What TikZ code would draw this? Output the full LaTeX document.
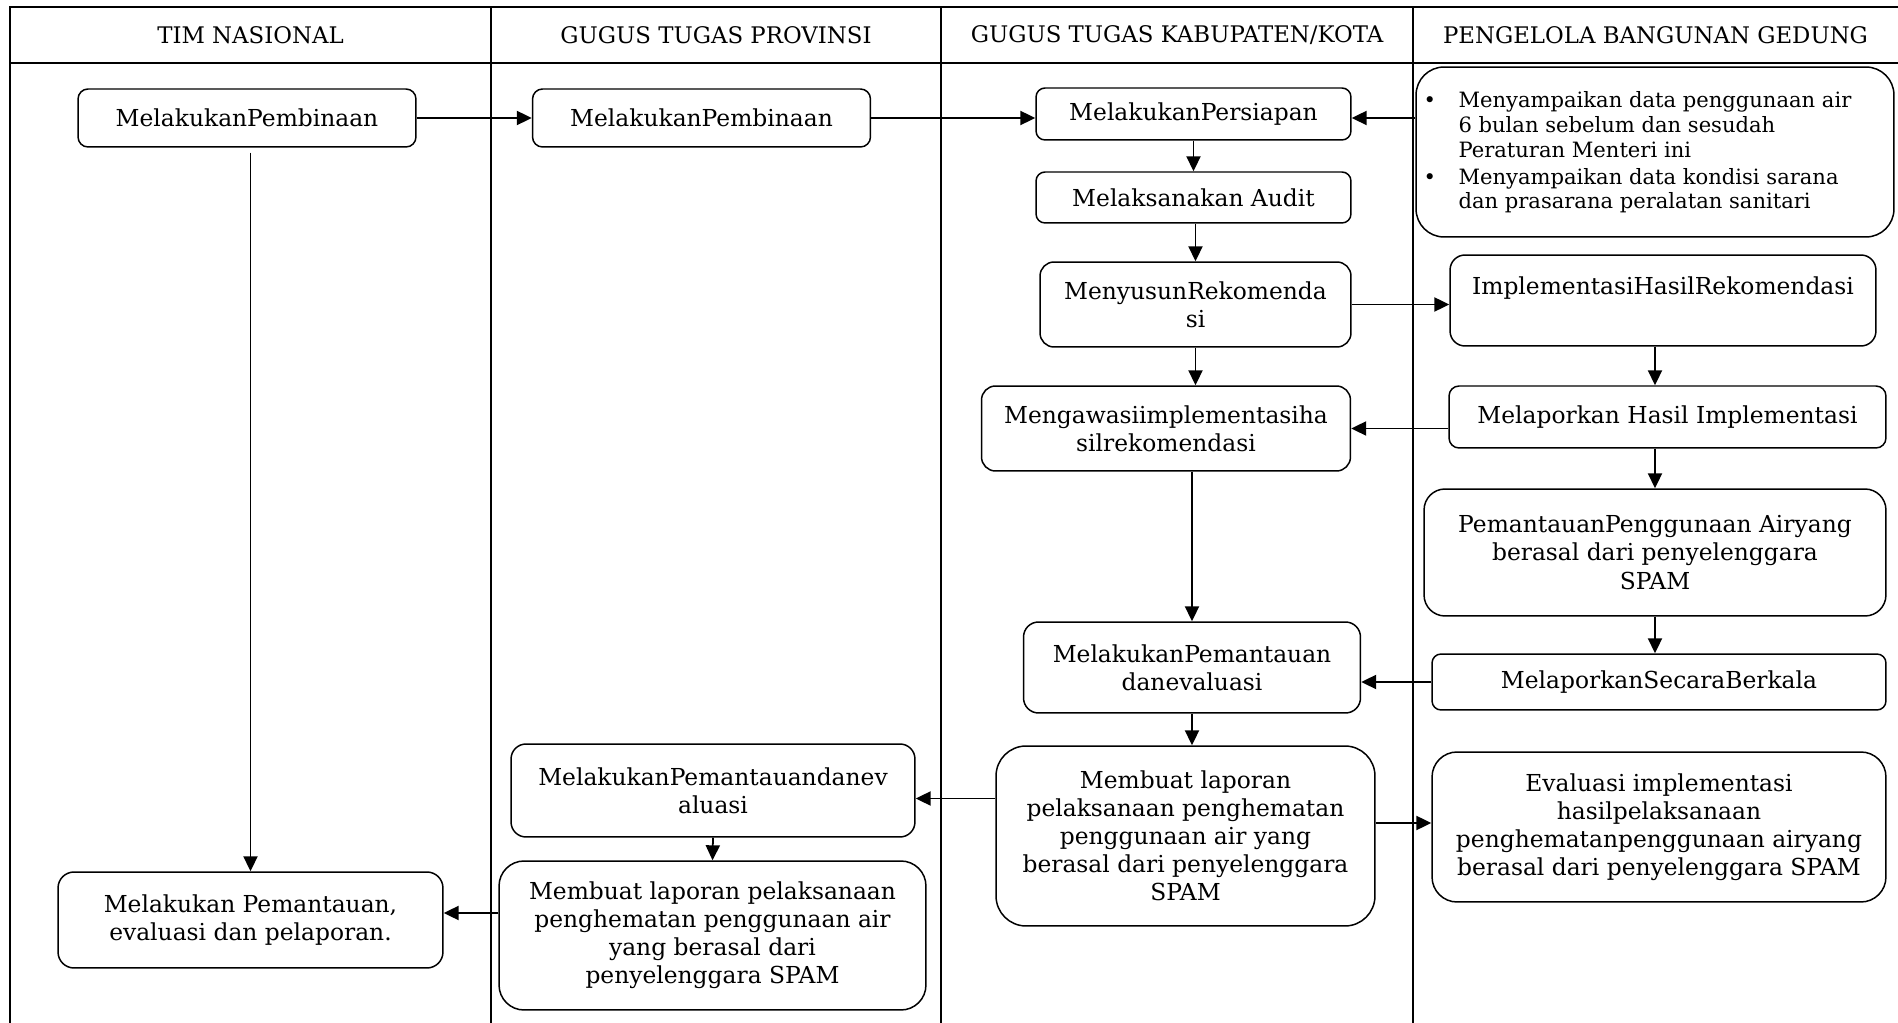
\documentclass[tikz,border=0pt]{standalone}
\usepackage{fontspec}
\setmainfont{DejaVu Serif}
\usepackage{tikz}
\usetikzlibrary{arrows.meta}
\tikzset{
  frame/.style={line width=1.4pt},
  lane/.style={line width=1pt},
  head/.style={font=\fontsize{13}{16}\selectfont},
  proc/.style={rectangle, draw, line width=0.85pt, rounded corners=0.2cm,
               align=center, inner sep=2pt, font=\fontsize{13.3}{16}\selectfont},
  flow/.style={-{Triangle[length=8.5pt,width=8pt]}, line width=1pt},
}

\begin{document}
\begin{tikzpicture}[x=0.02cm, y=-0.02cm]
  \useasboundingbox (0,0) rectangle (1898,1023);

  % swimlanes
  \draw[frame] (10,1023) -- (10,7) -- (1898,7);
  \draw[frame] (10,63) -- (1898,63);
  \foreach \x in {491,941,1413}
    \draw[lane] (\x,7) -- (\x,1023);

  \node[head] (hNas)  at (250.5,35) {TIM NASIONAL};
  \node[head] (hProv) at (716,35)   {GUGUS TUGAS PROVINSI};
  \node[head] (hKab)  at (1177,35)  {GUGUS TUGAS KABUPATEN/KOTA};
  \node[head] (hPbg)  at (1655.5,35) {PENGELOLA BANGUNAN GEDUNG};

  % tim nasional
  \node[proc, minimum width=6.76cm, minimum height=1.16cm] (nas1) at (247,118) {MelakukanPembinaan};
  \node[proc, minimum width=7.7cm, minimum height=1.92cm, rounded corners=0.32cm] (nas2) at (250.5,920)
    {Melakukan Pemantauan,\\evaluasi dan pelaporan.};

  % provinsi
  \node[proc, minimum width=6.76cm, minimum height=1.16cm] (prov1) at (701.5,118) {MelakukanPembinaan};
  \node[proc, minimum width=8.08cm, minimum height=1.86cm, rounded corners=0.3cm] (prov2) at (713,790.5)
    {MelakukanPemantauandanev\\aluasi};
  \node[proc, minimum width=8.54cm, minimum height=2.98cm, rounded corners=0.5cm] (prov3) at (712.5,935.5)
    {Membuat laporan pelaksanaan\\penghematan penggunaan air\\yang berasal dari\\penyelenggara SPAM};

  % kabupaten/kota
  \node[proc, minimum width=6.3cm, minimum height=1.04cm, rounded corners=0.18cm] (kab1) at (1193.5,114) {MelakukanPersiapan};
  \node[proc, minimum width=6.3cm, minimum height=1.02cm, rounded corners=0.18cm] (kab2) at (1193.5,197.5) {Melaksanakan Audit};
  \node[proc, minimum width=6.22cm, minimum height=1.7cm, rounded corners=0.28cm] (kab3) at (1195.5,304.5)
    {MenyusunRekomenda\\si};
  \node[proc, minimum width=7.38cm, minimum height=1.7cm, rounded corners=0.28cm] (kab4) at (1166,428.5)
    {Mengawasiimplementasiha\\silrekomendasi};
  \node[proc, minimum width=6.74cm, minimum height=1.82cm, rounded corners=0.3cm] (kab5) at (1192,667.5)
    {MelakukanPemantauan\\danevaluasi};
  \node[proc, minimum width=7.58cm, minimum height=3.6cm, rounded corners=0.6cm] (kab6) at (1185.5,836)
    {Membuat laporan\\pelaksanaan penghematan\\penggunaan air yang\\berasal dari penyelenggara\\SPAM};

  % pengelola bangunan gedung
  \node[proc, minimum width=9.56cm, minimum height=3.4cm, rounded corners=0.56cm] (pbg1) at (1655,152)
    {\raisebox{-0.03cm}[\height][\depth]{\fontsize{12}{14}\selectfont
     \begin{tabular}{@{}p{0.7cm}@{}p{8.56cm}@{}}
       \textbullet & Menyampaikan data penggunaan air\\
                   & 6 bulan sebelum dan sesudah\\
                   & Peraturan Menteri ini\\[0.05cm]
       \textbullet & Menyampaikan data kondisi sarana\\
                   & dan prasarana peralatan sanitari
     \end{tabular}}};
  \node[proc, minimum width=8.52cm, minimum height=1.82cm, rounded corners=0.3cm,
        inner ysep=0pt, text height=0.8cm, text depth=1.02cm] (pbg2) at (1663,300.5)
    {ImplementasiHasilRekomendasi};
  \node[proc, minimum width=8.74cm, minimum height=1.24cm] (pbg3) at (1667.5,417) {Melaporkan Hasil Implementasi};
  \node[proc, minimum width=9.24cm, minimum height=2.54cm, rounded corners=0.42cm] (pbg4) at (1655,552.5)
    {PemantauanPenggunaan Airyang\\berasal dari penyelenggara\\SPAM};
  \node[proc, minimum width=9.08cm, minimum height=1.12cm, rounded corners=0.18cm] (pbg5) at (1659,682) {MelaporkanSecaraBerkala};
  \node[proc, minimum width=9.08cm, minimum height=3cm, rounded corners=0.5cm] (pbg6) at (1659,827)
    {Evaluasi implementasi\\hasilpelaksanaan\\penghematanpenggunaan airyang\\berasal dari penyelenggara SPAM};

  % arrow ends that sit off the box centres
  \coordinate (prov2in) at ([yshift=-0.16cm]prov2.east);
  \coordinate (nas2in) at ([yshift=0.14cm]nas2.east);
  \coordinate (pbg6in) at ([yshift=0.08cm]pbg6.west);

  % connectors
  \draw[flow] (nas1.east) -- (prov1.west);
  \draw[flow] (prov1.east) -- (prov1.east -| kab1.west);
  \draw[flow] (pbg1.west |- prov1.east) -- (kab1.east |- prov1.east);
  \draw[flow, shorten <=0.1cm] (nas2.north |- nas1.south) -- (nas2.north);
  \draw[flow] (kab1.south) -- (kab2.north);
  \draw[flow] (kab3.north |- kab2.south) -- (kab3.north);
  \draw[flow] (kab3.south) -- (kab3.south |- kab4.north);
  \draw[flow] (kab5.north |- kab4.south) -- (kab5.north);
  \draw[flow] (kab3.east) -- (kab3.east -| pbg2.west);
  \draw[flow] (pbg4.north |- pbg2.south) -- (pbg4.north |- pbg3.north);
  \draw[flow] (pbg4.north |- pbg3.south) -- (pbg4.north);
  \draw[flow] (pbg4.south) -- (pbg4.south |- pbg5.north);
  \draw[flow] (pbg3.west |- kab4.east) -- (kab4.east);
  \draw[flow] (pbg5.west) -- (pbg5.west -| kab5.east);
  \draw[flow] (kab5.south) -- (kab5.south |- kab6.north);
  \draw[flow] (kab6.west |- prov2in) -- (prov2in);
  \draw[flow] (kab6.east |- pbg6in) -- (pbg6in);
  \draw[flow] (prov2.south) -- (prov3.north);
  \draw[flow] (prov3.west |- nas2in) -- (nas2in);
\end{tikzpicture}
\end{document}
